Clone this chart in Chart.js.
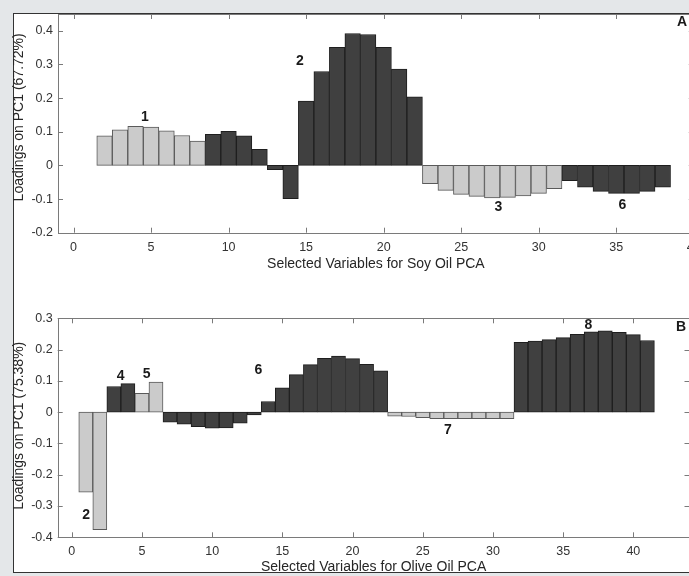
<!DOCTYPE html>
<html>
<head>
<meta charset="utf-8">
<script src="https://cdn.jsdelivr.net/npm/chart.js@4.4.1/dist/chart.umd.min.js"></script>
<style>
  html, body { margin:0; padding:0; width:689px; height:576px; overflow:hidden; background:#e4e7e9; }
  #panel { position:absolute; left:13px; top:13px; width:720px; height:560px; background:#fff; border:1.5px solid #333; box-sizing:border-box; }
  canvas { position:absolute; left:0; top:0; }
</style>
</head>
<body>
<div id="panel"></div>
<canvas id="soy" width="720" height="576"></canvas>
<canvas id="olive" width="720" height="576"></canvas>
<script>
// --- Soy oil PCA (panel A) ---
const soyVars = [2,3,4,5,6,7,8,9,10,11,12,13,14,15,16,17,18,19,20,21,22,23,24,25,26,27,28,29,30,31,32,33,34,35,36,37,38];
const soyLoadings = [0.088,0.106,0.116,0.114,0.103,0.089,0.072,
  0.092,0.101,0.088,0.048,-0.013,-0.099,0.191,0.279,0.351,0.392,0.389,0.351,0.286,0.204,
  -0.054,-0.074,-0.086,-0.092,-0.097,-0.095,-0.091,-0.083,-0.069,
  -0.045,-0.065,-0.077,-0.083,-0.083,-0.077,-0.065];
const soyLightVars = [2,3,4,5,6,7,8,23,24,25,26,27,28,29,30,31];
const soyXTicks = [0,5,10,15,20,25,30,35,40];
const soyYTicks = [-0.2,-0.1,0,0.1,0.2,0.3,0.4];
const soyNotes = ['1','2','3','6','A'];
const soyNoteX = [4.6, 14.6, 27.4, 35.4, 39.25];
const soyNoteY = [0.143, 0.31, -0.124, -0.117, 0.425];

// --- Olive oil PCA (panel B) ---
const oliveVars = [1,2,3,4,5,6,7,8,9,10,11,12,13,14,15,16,17,18,19,20,21,22,23,24,25,26,27,28,29,30,31,32,33,34,35,36,37,38,39,40,41];
const oliveLoadings = [-0.256,-0.376,0.082,0.091,0.060,0.096,
  -0.032,-0.038,-0.046,-0.051,-0.050,-0.035,-0.009,0.034,0.078,0.120,0.152,0.172,0.179,0.171,0.153,0.132,
  -0.013,-0.014,-0.018,-0.021,-0.021,-0.021,-0.021,-0.021,-0.021,
  0.223,0.227,0.232,0.238,0.249,0.257,0.260,0.255,0.248,0.229];
const oliveLightVars = [1,2,5,6,23,24,25,26,27,28,29,30,31];
const oliveXTicks = [0,5,10,15,20,25,30,35,40];
const oliveYTicks = [-0.4,-0.3,-0.2,-0.1,0,0.1,0.2,0.3];
const oliveNotes = ['2','4','5','6','7','8','B'];
const oliveNoteX = [1.02, 3.48, 5.33, 13.3, 26.8, 36.8, 43.4];
const oliveNoteY = [-0.329, 0.116, 0.12, 0.133, -0.057, 0.277, 0.272];

const FONT = '"Liberation Sans", Arial, Helvetica, sans-serif';

function splitBars(vars, vals, lightVars) {
  let light = [], dark = [];
  vars.forEach((v,i)=>{ (lightVars.includes(v) ? light : dark).push({x:v, y:vals[i]}); });
  return [
    {data: light, backgroundColor:'#cbcbcb', borderColor:'#5a5a5a'},
    {data: dark, backgroundColor:'#404040', borderColor:'#1e1e1e'}
  ].map(d=>Object.assign(d, {borderWidth:1, borderSkipped:false, grouped:false, barPercentage:1, categoryPercentage:1}));
}

// box, inward ticks, titles and number labels
const framePlugin = {
  id: 'frame',
  afterDatasetsDraw(chart) {
    const {ctx, chartArea:a, scales:{x, y}} = chart;
    ctx.save();
    ctx.strokeStyle = '#7a7a7a'; ctx.lineWidth = 1;
    ctx.strokeRect(Math.round(a.left)+0.5, Math.round(a.top)+0.5, Math.round(a.right-a.left), Math.round(a.bottom-a.top));
    ctx.beginPath();
    x.ticks.forEach(t=>{
      let px = Math.round(x.getPixelForValue(t.value))+0.5;
      ctx.moveTo(px, a.bottom); ctx.lineTo(px, a.bottom-5);
      ctx.moveTo(px, a.top); ctx.lineTo(px, a.top+5);
    });
    y.ticks.forEach(t=>{
      let py = Math.round(y.getPixelForValue(t.value))+0.5;
      ctx.moveTo(a.left, py); ctx.lineTo(a.left+5, py);
      ctx.moveTo(a.right, py); ctx.lineTo(a.right-5, py);
    });
    ctx.stroke();
    ctx.restore();
  },
  afterDraw(chart, args, opts) {
    const {ctx, chartArea:a, scales:{x, y}} = chart;
    ctx.save();
    ctx.fillStyle = '#1a1a1a';
    ctx.textAlign = 'center'; ctx.textBaseline = 'middle';
    ctx.font = 'bold 14px ' + FONT;
    opts.notes.forEach((n,i)=> ctx.fillText(n, x.getPixelForValue(opts.noteX[i]), y.getPixelForValue(opts.noteY[i])));
    ctx.fillStyle = '#262626';
    ctx.font = '14px ' + FONT;
    ctx.fillText(opts.xTitle, (a.left+a.right)/2, a.bottom + opts.xTitleGap);
    ctx.translate(19, (a.top+a.bottom)/2 + opts.yTitleShift);
    ctx.rotate(-Math.PI/2);
    ctx.fillText(opts.yTitle, 0, 0);
    ctx.restore();
  }
};

function makeChart(id, vars, vals, lightVars, cfg) {
  return new Chart(document.getElementById(id), {
    type: 'bar',
    data: { datasets: splitBars(vars, vals, lightVars) },
    options: {
      responsive: false, animation: false,
      layout: { padding: cfg.padding },
      plugins: {
        legend: {display:false}, tooltip: {enabled:false},
        frame: { notes: cfg.notes, noteX: cfg.noteX, noteY: cfg.noteY, xTitle: cfg.xTitle, yTitle: cfg.yTitle,
          xTitleGap: cfg.xTitleGap, yTitleShift: cfg.yTitleShift }
      },
      scales: {
        x: {
          type: 'linear', min: -1, max: cfg.xMax, offset: false,
          grid: {display:false, drawTicks:false}, border: {display:false},
          ticks: {padding:7, color:'#333', font:{family:FONT, size:12.5}},
          afterBuildTicks: s => { s.ticks = cfg.xTicks.map(v=>({value:v})); },
          afterFit: s => { s.height = 20; }
        },
        y: {
          min: cfg.yMin, max: cfg.yMax,
          grid: {display:false, drawTicks:false}, border: {display:false},
          ticks: {padding:5, color:'#333', font:{family:FONT, size:12.5},
            callback: v => Math.abs(v) < 1e-9 ? '0' : v.toFixed(1)},
          afterBuildTicks: s => { s.ticks = cfg.yTicks.map(v=>({value:v})); },
          afterFit: s => { s.width = cfg.yWidth; }
        }
      }
    },
    plugins: [framePlugin]
  });
}

makeChart('soy', soyVars, soyLoadings, soyLightVars, {
  padding: {left:14, top:14, right:720-693.8, bottom:576-232.7-20},
  yWidth: 44, xMax: 40, yMin: -0.2, yMax: 0.45, xTicks: soyXTicks, yTicks: soyYTicks,
  notes: soyNotes, noteX: soyNoteX, noteY: soyNoteY,
  xTitle: 'Selected Variables for Soy Oil PCA', yTitle: 'Loadings on PC1 (67.72%)', xTitleGap: 31.5, yTitleShift: -6
});

makeChart('olive', oliveVars, oliveLoadings, oliveLightVars, {
  padding: {left:14, top:318.3, right:720-689.5, bottom:576-537.3-20},
  yWidth: 43.7, xMax: 44, yMin: -0.4, yMax: 0.3, xTicks: oliveXTicks, yTicks: oliveYTicks,
  notes: oliveNotes, noteX: oliveNoteX, noteY: oliveNoteY,
  xTitle: 'Selected Variables for Olive Oil PCA', yTitle: 'Loadings on PC1 (75.38%)', xTitleGap: 29.5, yTitleShift: -2
});
</script>
</body>
</html>
